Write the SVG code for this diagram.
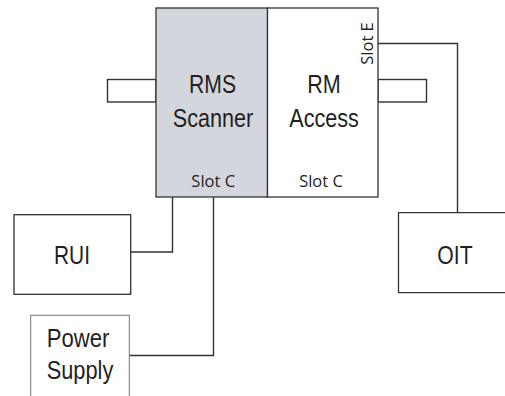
<svg xmlns="http://www.w3.org/2000/svg" width="505" height="396" viewBox="0 0 505 396">
<style>
.box{fill:#fff;stroke:#333;stroke-width:1.3}
.lite{fill:#fff;stroke:#777;stroke-width:1}
.big{font-family:"Liberation Sans",Arial,sans-serif;font-size:26px;fill:#231f20;text-anchor:middle}
.slot{font-family:"Open Sans","DejaVu Sans",sans-serif;font-size:16.5px;fill:#231f20;text-anchor:middle}
.wire{fill:none;stroke:#333;stroke-width:1.4}
</style>
<rect width="505" height="396" fill="#fff"/>
<g id="connectors">
<rect x="107.5" y="79.5" width="48.5" height="22.5" class="wire"/>
<rect x="378" y="79.5" width="48.5" height="22.5" class="wire"/>
<polyline class="wire" points="378,43.5 457.5,43.5 457.5,212.5"/>
<polyline class="wire" points="131,252 172.5,252 172.5,197"/>
<polyline class="wire" points="129,355.5 213.5,355.5 213.5,197"/>
</g>
<g id="rms-scanner">
<rect x="156" y="8" width="111.5" height="189" fill="#d4d6dd" stroke="#333" stroke-width="1.3"/>
<text class="big" x="212.5" y="93.3" textLength="47" lengthAdjust="spacingAndGlyphs">RMS</text>
<text class="big" x="213" y="127.3" textLength="80.5" lengthAdjust="spacingAndGlyphs">Scanner</text>
<text class="slot" x="213.2" y="186.7">Slot C</text>
</g>
<g id="rm-access">
<rect x="267.5" y="8" width="110.5" height="189" class="box"/>
<text class="big" x="324" y="93.3" textLength="33.5" lengthAdjust="spacingAndGlyphs">RM</text>
<text class="big" x="324" y="127.3" textLength="69.5" lengthAdjust="spacingAndGlyphs">Access</text>
<text class="slot" x="321" y="186.7">Slot C</text>
<text class="slot" transform="translate(373.3,43.5) rotate(-90)">Slot E</text>
</g>
<g id="rui">
<rect x="14" y="214.7" width="116.7" height="79.6" class="box"/>
<text class="big" x="72" y="264" textLength="36" lengthAdjust="spacingAndGlyphs">RUI</text>
</g>
<g id="power-supply">
<rect x="30.7" y="315.3" width="98.6" height="90" class="lite"/>
<text class="big" x="78" y="346.7" textLength="62.7" lengthAdjust="spacingAndGlyphs">Power</text>
<text class="big" x="80" y="379.3" textLength="66.7" lengthAdjust="spacingAndGlyphs">Supply</text>
</g>
<g id="oit">
<path class="box" d="M510,212.7 H398.5 V292.7 H510"/>
<text class="big" x="455" y="264" textLength="35.3" lengthAdjust="spacingAndGlyphs">OIT</text>
</g>
</svg>
